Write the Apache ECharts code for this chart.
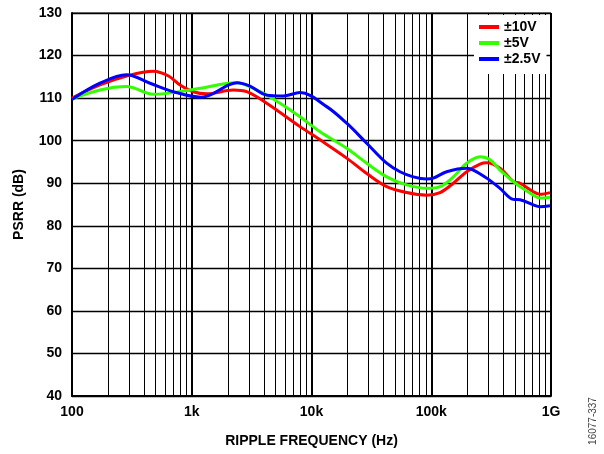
<!DOCTYPE html>
<html>
<head>
<meta charset="utf-8">
<script src="https://cdn.jsdelivr.net/npm/echarts@6/dist/echarts.min.js"></script>
<style>html,body{margin:0;padding:0;background:#fff}#c{width:604px;height:454px}</style>
</head>
<body>
<div id="c"></div>
<script>
// Frequencies (Hz) and PSRR (dB)
const freq10V = [100,171,286,477,640,798,1030,1333,2225,2877,4224,8015,11770,19670,28900,42440,62370,91600,118300,152900,197600,255300,290300,375000,484400,551000,711600,809000,981000];
const psrr10V = [110,113.1,115.2,116.3,115.2,113.1,111.5,111.0,111.9,111.5,108.8,103.3,100.2,95.9,92.3,89.2,87.8,87.2,87.8,90.0,92.7,94.5,94.8,93.5,90.4,90.0,88.0,87.4,87.8];
const freq5V = [100,171,286,477,702,1172,2350,3715,5456,8015,11770,19670,28900,42440,62370,91600,118300,152900,197600,255300,309500,375000,484400,551000,711600,809000,981000];
const psrr5V = [109.8,111.9,112.7,110.9,111.3,112.3,113.6,111.5,108.8,105.6,102.1,98.2,94.7,91.5,89.6,88.8,89.2,91.5,94.7,96.2,95.5,93.1,90.4,89.2,87.2,86.5,86.7];
const freq2V5 = [100,171,285,448,702,1200,2400,3065,4224,5800,8015,13390,19670,28900,42440,54830,70850,91600,104000,134500,197600,224500,290300,375000,484400,551000,711600,809000,981000];
const psrr2V5 = [109.7,113.5,115.5,113.5,111.5,110.2,113.6,112.8,110.7,110.5,111.3,108.0,104.1,99.4,94.7,92.7,91.5,91.0,91.2,92.7,93.5,93.1,91.2,88.8,86.2,86.1,84.9,84.5,84.7];

const seriesNames = ['±10V', '±5V', '±2.5V'];
const xTickLabels = {100: '100', 1000: '1k', 10000: '10k', 100000: '100k', 1000000: '1G'};
const yTicks = [40, 50, 60, 70, 80, 90, 100, 110, 120, 130];
const decades = [100, 1000, 10000, 100000];
const minorMultipliers = [2, 3, 4, 5, 6, 7, 8, 9];

const FONT = '"Liberation Sans", Arial, sans-serif';
const colors = ['#ff0000', '#33ff00', '#0000ff'];

const minorLines = [];
decades.forEach(d => minorMultipliers.forEach(m => minorLines.push({xAxis: d * m})));

function pairs(xs, ys) { return xs.map((x, i) => [x, ys[i]]); }

const chart = echarts.init(document.getElementById('c'), null, {renderer: 'canvas'});
const lineSeries = [
  [freq10V, psrr10V], [freq5V, psrr5V], [freq2V5, psrr2V5]
].map((p, i) => ({
  name: seriesNames[i],
  type: 'line',
  smooth: 0.35,
  showSymbol: false,
  symbol: 'none',
  z: 5,
  lineStyle: {color: colors[i], width: 3},
  itemStyle: {color: colors[i]},
  data: pairs(p[0], p[1])
}));

chart.setOption({
  animation: false,
  backgroundColor: '#fff',
  grid: {left: 72, right: 53, top: 13, bottom: 58, show: true, borderColor: '#000', borderWidth: 1},
  legend: {
    data: seriesNames,
    orient: 'vertical',
    left: 474,
    top: 15,
    padding: [4, 6, 7, 5],
    backgroundColor: '#fff',
    itemGap: 0,
    itemWidth: 20,
    itemHeight: 4,
    icon: 'rect',
    z: 20,
    textStyle: {fontFamily: FONT, fontWeight: 'bold', fontSize: 14, color: '#000', lineHeight: 16, padding: [0, 0, 0, 0]}
  },
  xAxis: {
    type: 'log',
    logBase: 10,
    min: 100,
    max: 1000000,
    name: 'RIPPLE FREQUENCY (Hz)',
    nameLocation: 'middle',
    nameGap: 38,
    nameTextStyle: {fontFamily: FONT, fontWeight: 'bold', fontSize: 14, color: '#000'},
    axisLine: {show: true, onZero: false, lineStyle: {color: '#000', width: 2}},
    axisTick: {show: false},
    axisLabel: {
      fontFamily: FONT, fontWeight: 'bold', fontSize: 14, color: '#000', margin: 9,
      formatter: v => xTickLabels[Math.round(v)] || ''
    },
    splitLine: {show: true, lineStyle: {color: '#000', width: 2}}
  },
  yAxis: {
    type: 'value',
    min: yTicks[0],
    max: yTicks[yTicks.length - 1],
    interval: 10,
    name: 'PSRR (dB)',
    nameLocation: 'middle',
    nameGap: 46,
    nameTextStyle: {fontFamily: FONT, fontWeight: 'bold', fontSize: 14, color: '#000'},
    axisLine: {show: true, lineStyle: {color: '#000', width: 2}},
    axisTick: {show: false},
    axisLabel: {fontFamily: FONT, fontWeight: 'bold', fontSize: 14, color: '#000', margin: 10},
    splitLine: {show: true, lineStyle: {color: '#000', width: 1.3}}
  },
  series: [{
    name: 'minor-grid',
    type: 'line',
    data: [],
    z: 1,
    silent: true,
    markLine: {
      silent: true,
      symbol: ['none', 'none'],
      label: {show: false},
      emphasis: {disabled: true},
      animation: false,
      lineStyle: {color: '#000', width: 1, type: 'solid'},
      data: minorLines
    }
  }].concat(lineSeries),
  graphic: [{
    type: 'text',
    x: 593,
    y: 421,
    rotation: Math.PI / 2,
    style: {text: '16077-337', fontFamily: FONT, fontSize: 10, fill: '#444', align: 'center', verticalAlign: 'middle'}
  }]
});
</script>
</body>
</html>
